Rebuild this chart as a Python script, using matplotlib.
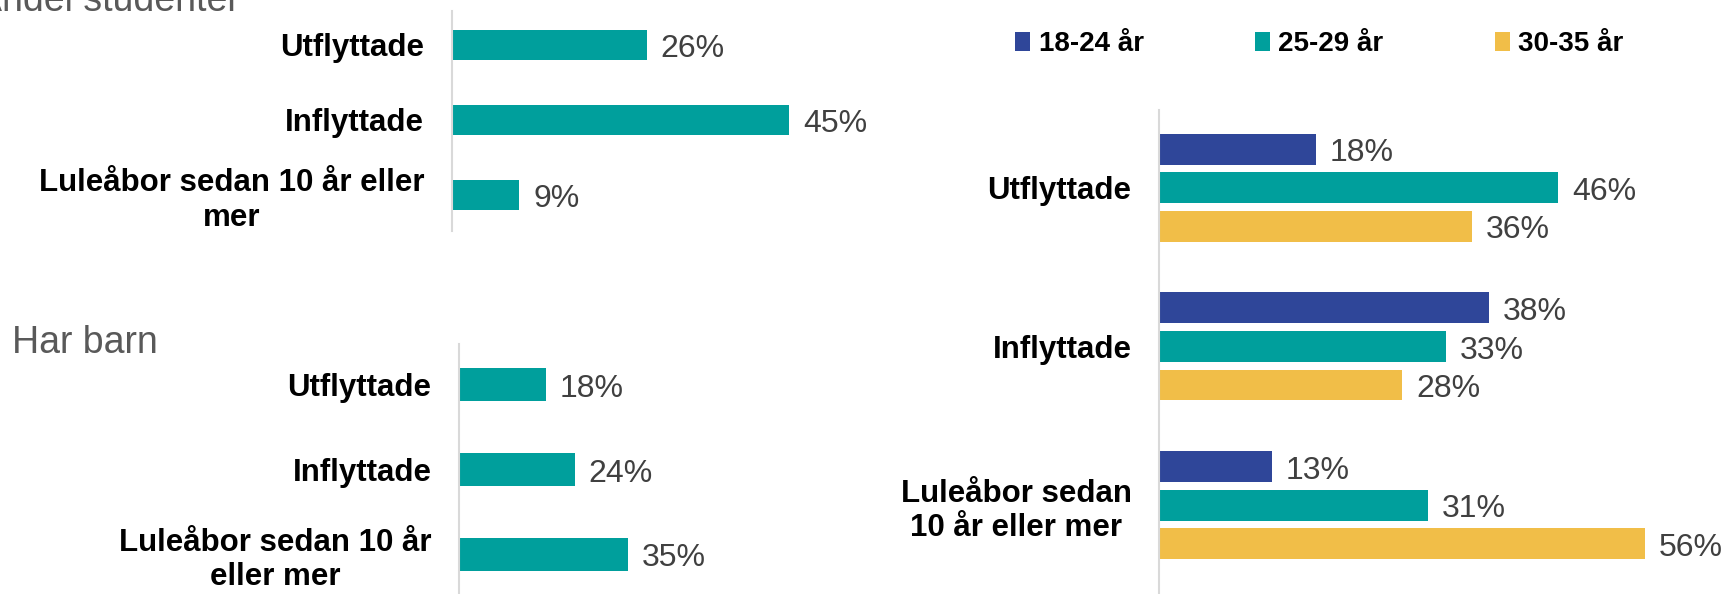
import matplotlib
matplotlib.use("Agg")
import matplotlib.pyplot as plt
import numpy as np

plt.rcParams['font.family'] = ['Liberation Sans', 'DejaVu Sans']

# ---- data ----
studenter_cats = ["Utflyttade", "Inflyttade", "Luleåbor sedan 10 år eller\nmer"]
studenter_vals = [26, 45, 9]

barn_cats = ["Utflyttade", "Inflyttade", "Luleåbor sedan 10 år\neller mer"]
barn_vals = [18, 24, 35]

age_cats = ["Utflyttade", "Inflyttade", "Luleåbor sedan\n10 år eller mer"]
age_groups = ["18-24 år", "25-29 år", "30-35 år"]
age_18_24 = [18, 38, 13]
age_25_29 = [46, 33, 31]
age_30_35 = [36, 28, 56]

title_studenter = "Andel studenter"
title_barn = "Har barn"

# ---- style ----
BLUE = "#2F4699"
TEAL = "#009F9C"
YELLOW = "#F1BE48"
VAL_COLOR = "#404040"
TITLE_COLOR = "#595959"
SPINE = "#D9D9D9"
CAT_FS = 22.5
VAL_FS = 23

W, H = 1723, 594
fig = plt.figure(figsize=(W / 100, H / 100), dpi=100)


def px_axes(left, top, width, height):
    return fig.add_axes([left / W, 1 - (top + height) / H, width / W, height / H])


def style(ax, cats, ylim, xmax, pad):
    ax.set_xlim(0, xmax)
    ax.set_ylim(*ylim)
    ax.set_yticks(np.arange(len(cats)))
    ax.set_yticklabels(cats, fontsize=CAT_FS, fontweight='bold', multialignment='center')
    ax.tick_params(axis='y', length=0, pad=pad)
    ax.set_xticks([])
    for s in ['top', 'right', 'bottom']:
        ax.spines[s].set_visible(False)
    ax.spines['left'].set_color(SPINE)
    ax.spines['left'].set_linewidth(1.5)
    ax.patch.set_alpha(0)


def value_labels(ax, container, vals):
    texts = ax.bar_label(container, labels=[f"{v}%" for v in vals], padding=10,
                         fontsize=VAL_FS, color=VAL_COLOR)
    for t in texts:
        t.xyann = (10, -3)
    return texts


# Top-left: Andel studenter
ax1 = px_axes(452, 11, 50 * 7.49, 220)
y = np.arange(len(studenter_cats))
b = ax1.barh(y, studenter_vals, height=0.4, color=TEAL)
value_labels(ax1, b, studenter_vals)
style(ax1, studenter_cats, (2.48, -0.45), 50, 20)
fig.text(-23 / W, 1 - 11 / H, title_studenter, fontsize=27, color=TITLE_COLOR,
         ha='left', va='baseline')

# Bottom-left: Har barn
ax2 = px_axes(459.3, 344, 50 * 4.806, 250)
y = np.arange(len(barn_cats))
b = ax2.barh(y, barn_vals, height=0.39, color=TEAL)
value_labels(ax2, b, barn_vals)
style(ax2, barn_cats, (2.47, -0.48), 50, 20)
fig.text(12 / W, 1 - 353 / H, title_barn, fontsize=27, color=TITLE_COLOR,
         ha='left', va='baseline')

# Right: age groups
ax3 = px_axes(1159.4, 110, 60 * 8.673, 484)
y = np.arange(len(age_cats))
off = 0.243
bh = 0.195
series = [(age_18_24, BLUE, -off), (age_25_29, TEAL, 0), (age_30_35, YELLOW, off)]
handles = []
for (vals, col, o), name in zip(series, age_groups):
    bb = ax3.barh(y + o, vals, height=bh, color=col, label=name)
    value_labels(ax3, bb, vals)
    handles.append(bb)
style(ax3, age_cats, (2.56, -0.49), 60, 20)

leg = fig.legend(handles=handles, labels=age_groups, loc='center left',
                 bbox_to_anchor=(1015 / W, 1 - 44 / H), ncol=3, frameon=False,
                 prop={'size': 20, 'weight': 'bold'},
                 handlelength=0.55, handleheight=0.7, handletextpad=0.3,
                 columnspacing=4.0, borderpad=0, borderaxespad=0)

fig.savefig("out.png", dpi=100)
